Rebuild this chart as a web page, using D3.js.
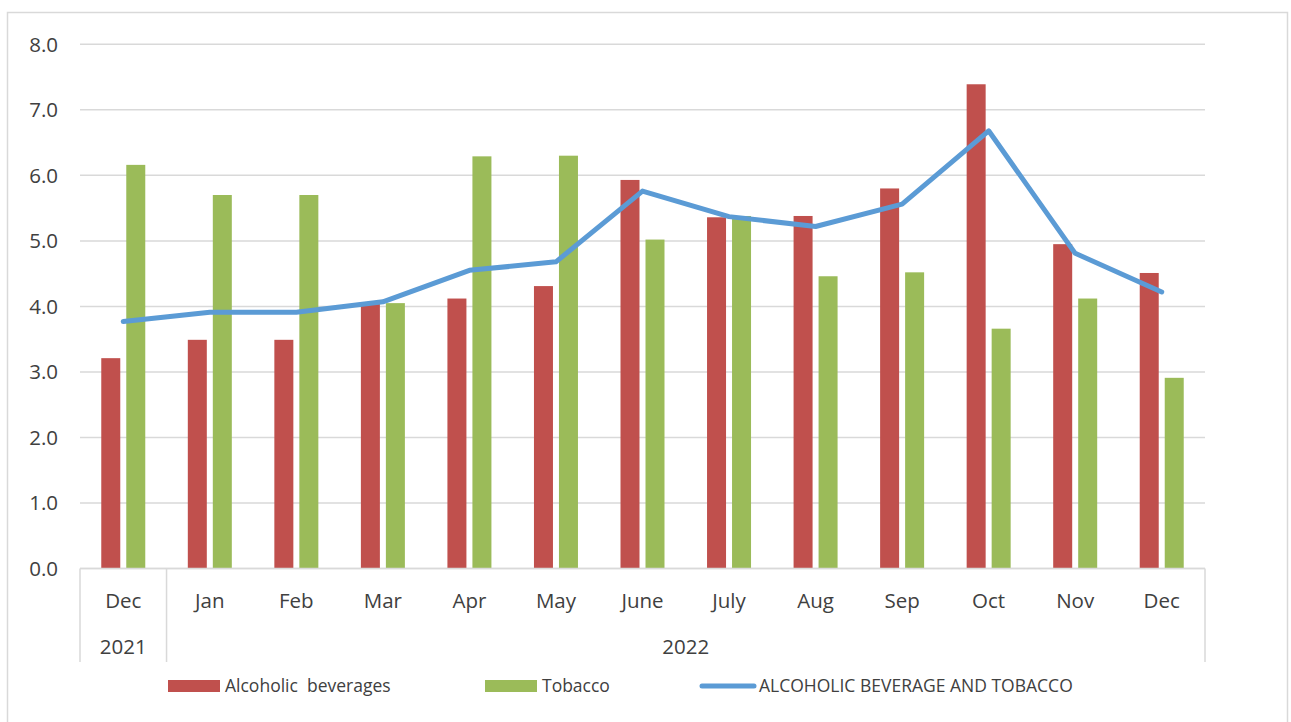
<!DOCTYPE html>
<html>
<head>
<meta charset="utf-8">
<script src="https://cdn.jsdelivr.net/npm/d3@7"></script>
<style>
  body { margin: 0; background: #fff; }
  text { font-family: "Open Sans", sans-serif; fill: #404040; }
</style>
</head>
<body>
<div id="chart"></div>
<script>
// data
const months = ['Dec', 'Jan', 'Feb', 'Mar', 'Apr', 'May', 'June', 'July', 'Aug', 'Sep', 'Oct', 'Nov', 'Dec'];
const years = [{ label: '2021', from: 0, to: 1 }, { label: '2022', from: 1, to: 13 }];
const alcoholic = [3.21, 3.49, 3.49, 4.06, 4.12, 4.31, 5.93, 5.36, 5.38, 5.80, 7.39, 4.95, 4.51];
const tobacco = [6.16, 5.70, 5.70, 4.05, 6.29, 6.30, 5.02, 5.38, 4.46, 4.52, 3.66, 4.12, 2.91];
const combined = [3.77, 3.91, 3.91, 4.07, 4.55, 4.68, 5.76, 5.37, 5.22, 5.56, 6.68, 4.81, 4.22];
const yTicks = [0, 1, 2, 3, 4, 5, 6, 7, 8];
const seriesNames = ['Alcoholic  beverages', 'Tobacco', 'ALCOHOLIC BEVERAGE AND TOBACCO'];

const W = 1291, H = 722;
const margin = { top: 44.3, left: 80, right: 86, bottom: 153.5 };
const colors = { alc: '#C0504D', tob: '#9BBB59', line: '#5B9BD5' };

const svg = d3.select('#chart').append('svg')
    .attr('width', W)
    .attr('height', H);

// outer frame
svg.append('rect')
    .attr('x', 7.5).attr('y', 12.5)
    .attr('width', 1280).attr('height', 720)
    .attr('fill', 'none')
    .attr('stroke', '#d9d9d9')
    .attr('stroke-width', 1.5);

const idx = d3.range(months.length);
const x0 = d3.scaleBand()
    .domain(idx)
    .range([margin.left, W - margin.right])
    .padding(0);
const bw = x0.bandwidth();
const x1 = d3.scaleBand()
    .domain(['alc', 'tob'])
    .range([bw / 2 - 22, bw / 2 + 22])
    .paddingInner(0.24);
const y = d3.scaleLinear()
    .domain([0, 8])
    .range([H - margin.bottom, margin.top]);

// gridlines
svg.append('g')
    .selectAll('line')
    .data(yTicks)
    .join('line')
    .attr('x1', margin.left).attr('x2', W - margin.right)
    .attr('y1', d => y(d)).attr('y2', d => y(d))
    .attr('stroke', '#d9d9d9')
    .attr('stroke-width', 1.5);

// y axis labels
svg.append('g')
    .selectAll('text')
    .data(yTicks)
    .join('text')
    .attr('x', 58)
    .attr('y', d => y(d))
    .attr('dy', '0.36em')
    .attr('text-anchor', 'end')
    .style('font-size', '20.5px')
    .text(d => d3.format('.1f')(d));

// bars
const groups = svg.append('g')
    .selectAll('g')
    .data(idx)
    .join('g')
    .attr('transform', i => 'translate(' + x0(i) + ',0)');
groups.selectAll('rect')
    .data(i => [{ k: 'alc', v: alcoholic[i] }, { k: 'tob', v: tobacco[i] }])
    .join('rect')
    .attr('x', d => x1(d.k))
    .attr('width', x1.bandwidth())
    .attr('y', d => y(d.v))
    .attr('height', d => y(0) - y(d.v))
    .attr('fill', d => colors[d.k]);

// combined line
const line = d3.line()
    .x((d, i) => x0(i) + bw / 2)
    .y(d => y(d));
svg.append('path')
    .datum(combined)
    .attr('d', line)
    .attr('fill', 'none')
    .attr('stroke', colors.line)
    .attr('stroke-width', 5)
    .attr('stroke-linejoin', 'round')
    .attr('stroke-linecap', 'round');

// category axis
const axisY = y(0);
svg.append('line')
    .attr('x1', margin.left).attr('x2', W - margin.right)
    .attr('y1', axisY).attr('y2', axisY)
    .attr('stroke', '#d9d9d9').attr('stroke-width', 1.5);
const seps = [0, 1, 13];
svg.append('g')
    .selectAll('line')
    .data(seps)
    .join('line')
    .attr('x1', d => d === 13 ? W - margin.right : x0(d))
    .attr('x2', d => d === 13 ? W - margin.right : x0(d))
    .attr('y1', axisY).attr('y2', 662)
    .attr('stroke', '#d9d9d9').attr('stroke-width', 1.5);

svg.append('g')
    .selectAll('text')
    .data(idx)
    .join('text')
    .attr('x', i => x0(i) + bw / 2)
    .attr('y', 608)
    .attr('text-anchor', 'middle')
    .style('font-size', '20.5px')
    .text(i => months[i]);

svg.append('g')
    .selectAll('text')
    .data(years)
    .join('text')
    .attr('x', d => (x0(d.from) + (d.to === 13 ? W - margin.right : x0(d.to))) / 2)
    .attr('y', 654)
    .attr('text-anchor', 'middle')
    .style('font-size', '20.5px')
    .text(d => d.label);

// legend
const legend = svg.append('g');
const legendItems = [
    { name: seriesNames[0], type: 'rect', color: colors.alc, x: 168 },
    { name: seriesNames[1], type: 'rect', color: colors.tob, x: 485 },
    { name: seriesNames[2], type: 'line', color: colors.line, x: 702 }
];
const ly = 686;
legendItems.forEach(d => {
    if (d.type === 'rect') {
        legend.append('rect')
            .attr('x', d.x).attr('y', ly - 6)
            .attr('width', 52).attr('height', 12)
            .attr('fill', d.color);
    } else {
        legend.append('line')
            .attr('x1', d.x).attr('x2', d.x + 52)
            .attr('y1', ly).attr('y2', ly)
            .attr('stroke', d.color)
            .attr('stroke-width', 5)
            .attr('stroke-linecap', 'round');
    }
    legend.append('text')
        .attr('x', d.x + 57)
        .attr('y', ly)
        .attr('dy', '0.36em')
        .style('font-size', '17.5px')
        .style('white-space', 'pre')
        .text(d.name);
});
</script>
</body>
</html>
